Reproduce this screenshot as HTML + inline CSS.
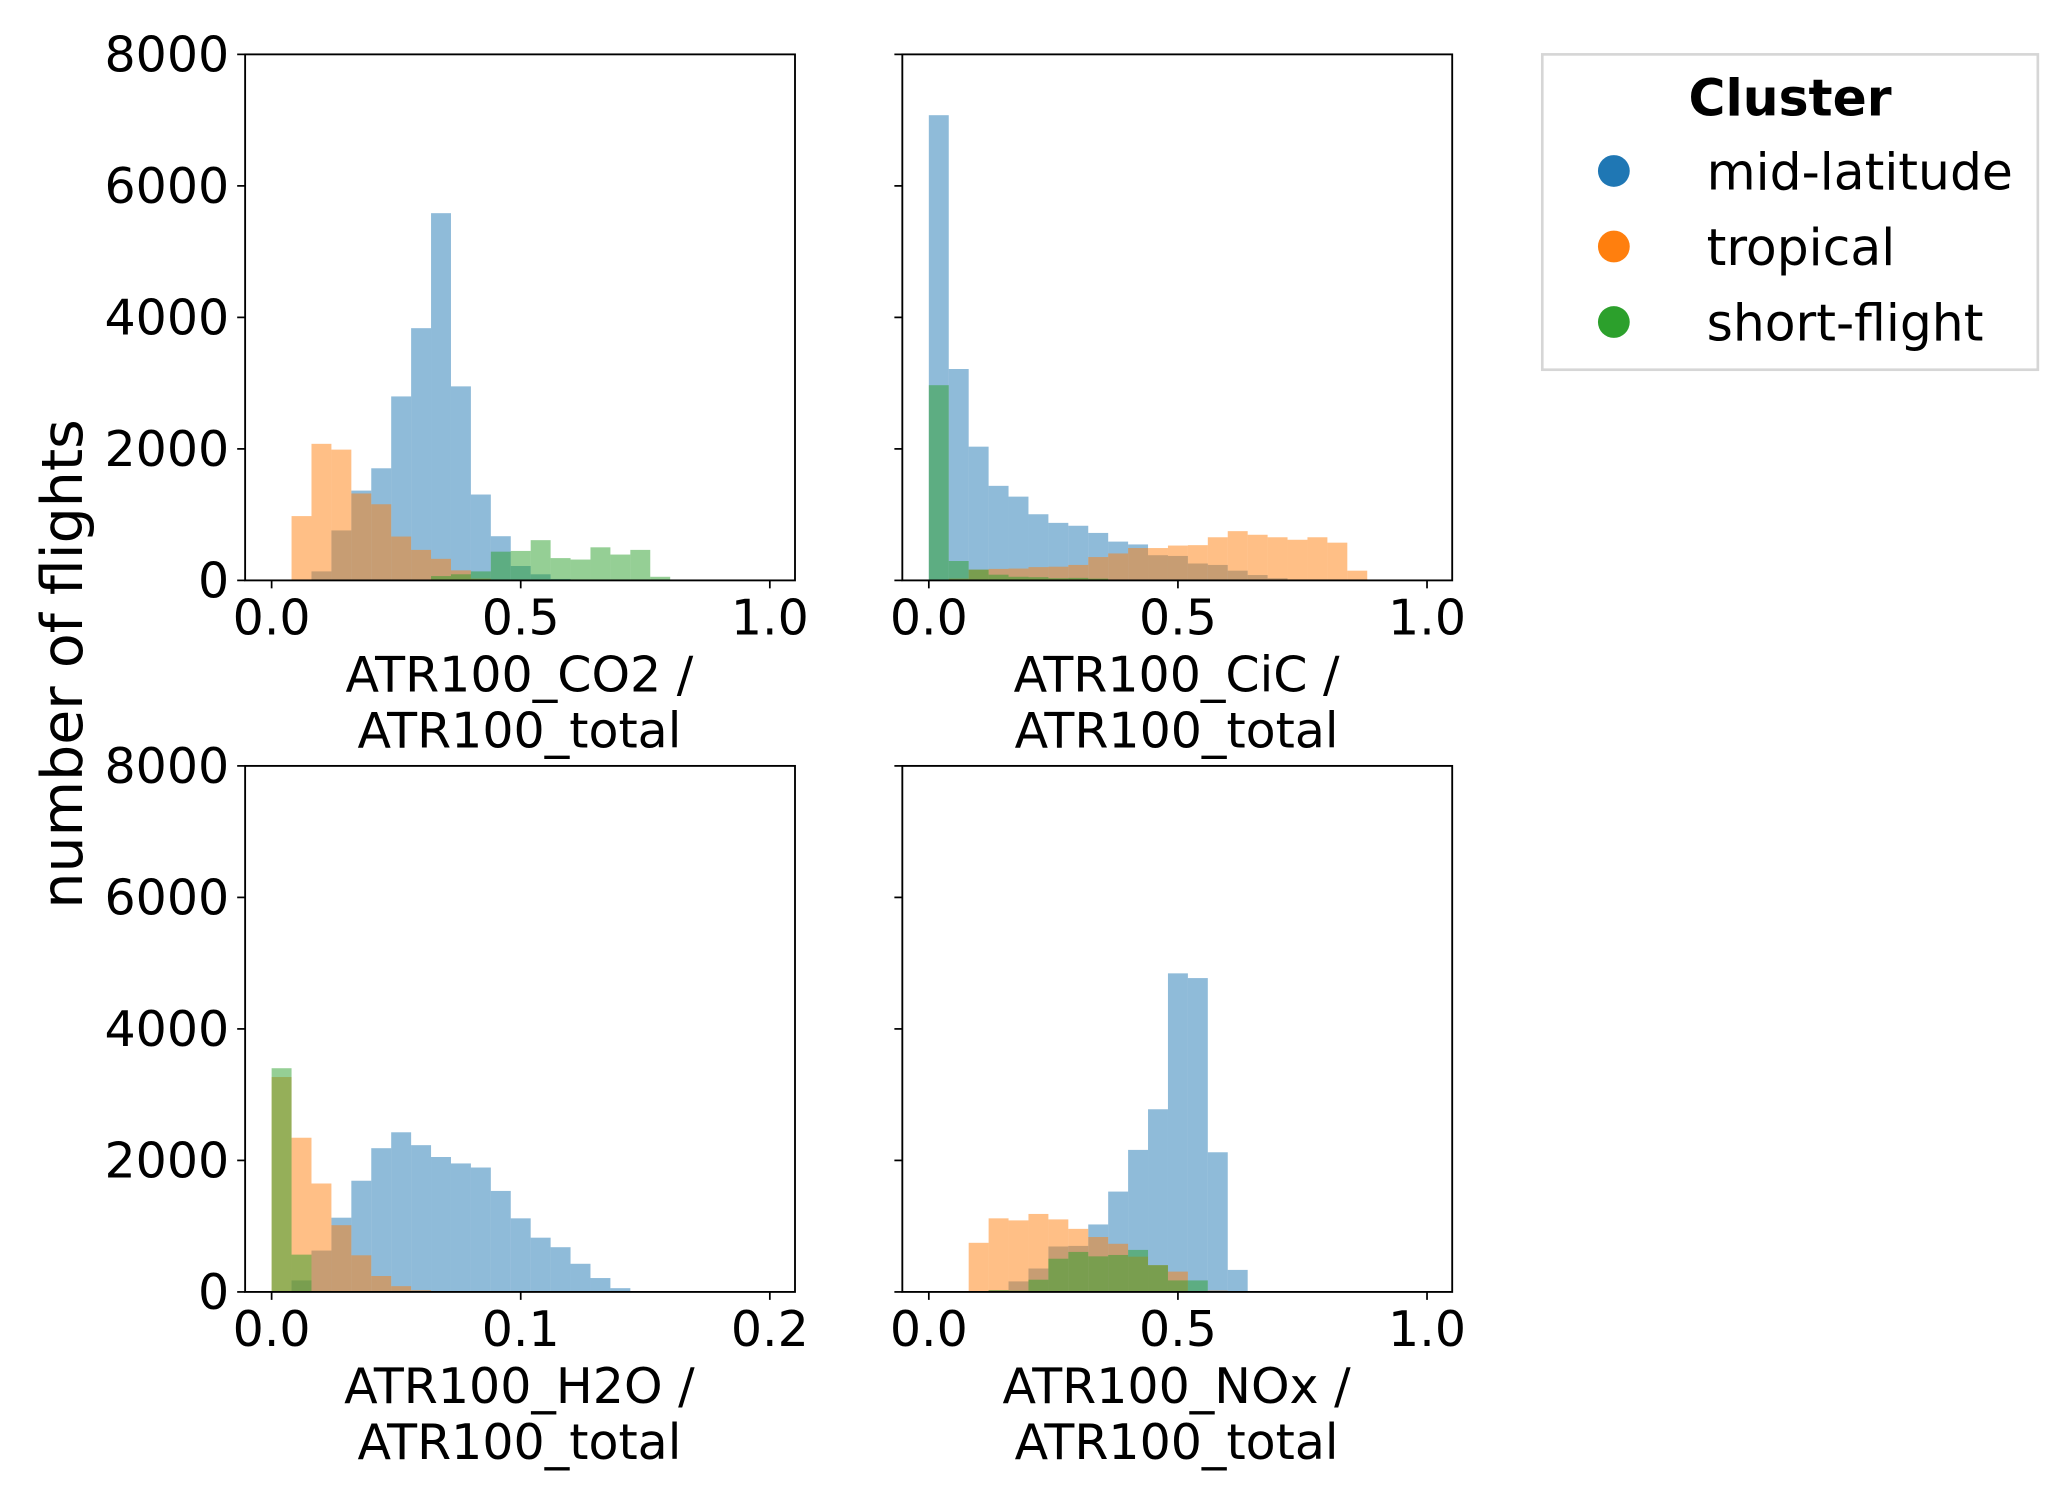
<!DOCTYPE html>
<html><head><meta charset="utf-8"><style>
html,body{margin:0;padding:0;background:#fff;}
svg{display:block;font-family:"DejaVu Sans","Liberation Sans",sans-serif;}
</style></head><body>
<svg id="fig" width="2067" height="1500" viewBox="0 0 1560 1132" xmlns="http://www.w3.org/2000/svg">
<rect width="1560" height="1132" fill="#fff"/>
<text x="0" y="0" transform="translate(62,501) rotate(-90)" font-size="43" text-anchor="middle">number of flights</text>
<g>
<rect x="1164" y="41" width="374" height="238" fill="#fff" stroke="#d6d6d6" stroke-width="2"/>
<text x="1351" y="87" font-size="38" font-weight="bold" text-anchor="middle">Cluster</text>
<circle cx="1218" cy="129" r="12" fill="#1f77b4"/>
<text x="1288" y="143" font-size="38">mid-latitude</text>
<circle cx="1218" cy="186" r="12" fill="#ff7f0e"/>
<text x="1288" y="200" font-size="38">tropical</text>
<circle cx="1218" cy="243" r="12" fill="#2ca02c"/>
<text x="1288" y="257" font-size="38">short-flight</text>
</g>
</svg>
<script>
// ---- data ----
const yTicks = [0, 2000, 4000, 6000, 8000];
const yMax = 8000;
// panel 1: CO2
const co2Start = 0.04, co2Width = 0.04;
const co2Mid = [0, 137, 760, 1366, 1705, 2798, 3836, 5585, 2951, 1306, 672, 219, 93, 22, 0];
const co2Trop = [978, 2077, 1989, 1322, 1158, 667, 464, 328, 153, 27, 5, 0];
const co2Short = [0, 0, 0, 0, 0, 0, 0, 66, 93, 137, 437, 448, 612, 339, 317, 503, 393, 464, 55, 10];
const co2Ticks = [0.0, 0.5, 1.0];
const co2TickLabels = ["0.0", "0.5", "1.0"];
// panel 2: CiC
const cicStart = 0.0, cicWidth = 0.04;
const cicMid = [7075, 3215, 2034, 1438, 1274, 1006, 875, 831, 722, 590, 547, 383, 372, 257, 235, 148, 82, 33, 0];
const cicTrop = [0, 27, 164, 175, 180, 202, 208, 235, 355, 410, 492, 492, 530, 536, 656, 749, 694, 656, 618, 656, 574, 148];
const cicShort = [2969, 295, 164, 87, 55, 49, 33, 38, 27, 5];
const cicTicks = [0.0, 0.5, 1.0];
const cicTickLabels = ["0.0", "0.5", "1.0"];
// panel 3: H2O
const h2oStart = 0.0, h2oWidth = 0.008;
const h2oMid = [0, 175, 629, 1129, 1691, 2186, 2428, 2232, 2052, 1954, 1892, 1536, 1119, 825, 680, 428, 211, 57];
const h2oTrop = [3268, 2345, 1649, 1015, 557, 242, 88, 26];
const h2oShort = [3402, 567, 15];
const h2oTicks = [0.0, 0.1, 0.2];
const h2oTickLabels = ["0.0", "0.1", "0.2"];
// panel 4: NOx
const noxStart = 0.08, noxWidth = 0.04;
const noxMid = [0, 26, 160, 356, 691, 700, 1026, 1526, 2160, 2778, 4845, 4773, 2124, 335];
const noxTrop = [747, 1119, 1088, 1186, 1103, 959, 835, 732, 536, 407, 309, 10, 20];
const noxShort = [0, 26, 20, 186, 505, 608, 541, 562, 639, 407, 175, 175];
const noxTicks = [0.0, 0.5, 1.0];
const noxTickLabels = ["0.0", "0.5", "1.0"];

const colors = {mid: "#1f77b4", trop: "#ff7f0e", short: "#2ca02c"};
const NS = "http://www.w3.org/2000/svg";
const svg = document.getElementById("fig");

function mk(tag, attrs, parent) {
  const e = document.createElementNS(NS, tag);
  for (const k in attrs) e.setAttribute(k, attrs[k]);
  parent.appendChild(e);
  return e;
}

function panel(cfg) {
  const g = mk("g", {}, svg);
  
  
  const x0 = cfg.x0, unit = cfg.unit, bottom = cfg.bottom, top = bottom - 397;
  const xs = v => x0 + v * unit;
  const ys = c => bottom - c / yMax * (bottom - top);
  const series = [["mid", cfg.mid], ["trop", cfg.trop], ["short", cfg.short]];
  series.forEach(([key, arr]) => {
    arr.forEach((c, i) => {
      if (c <= 0) return;
      const a = cfg.start + i * cfg.width, b = a + cfg.width;
      const r = mk("rect", {x: xs(a), y: ys(c), width: xs(b) - xs(a), height: bottom - ys(c), fill: colors[key], "fill-opacity": 0.5}, g);
      
      
    });
  });
  const frame = mk("rect", {x: cfg.left, y: top, width: 415, height: bottom - top, fill: "none", stroke: "#000", "stroke-width": 1.4}, g);
  
  
  cfg.ticks.forEach((t, i) => {
    const x = xs(t);
    mk("line", {x1: x, x2: x, y1: bottom, y2: bottom + 6, stroke: "#000", "stroke-width": 1.3}, g);
    const tl = mk("text", {x: x, y: bottom + 41, "font-size": 37, "text-anchor": "middle"}, g);
    tl.textContent = cfg.tickLabels[i];
    
    
  });
  yTicks.forEach(t => {
    const y = ys(t);
    mk("line", {x1: cfg.left, x2: cfg.left - 6, y1: y, y2: y, stroke: "#000", "stroke-width": 1.3}, g);
    if (cfg.showY) {
      const tl = mk("text", {x: cfg.left - 12, y: y + 13, "font-size": 37, "text-anchor": "end"}, g);
      tl.textContent = String(t);
      
      
    }
  });
  const cx = cfg.left + 207;
  const l1 = mk("text", {x: cx, y: bottom + 84, "font-size": 37, "text-anchor": "middle"}, g);
  l1.textContent = cfg.label1;
  
  
  const l2 = mk("text", {x: cx, y: bottom + 126, "font-size": 37, "text-anchor": "middle"}, g);
  l2.textContent = "ATR100_total";
  
  
}

panel({name: "panel-co2", left: 185, x0: 205, unit: 376, bottom: 438, showY: true, start: co2Start, width: co2Width, mid: co2Mid, trop: co2Trop, short: co2Short, ticks: co2Ticks, tickLabels: co2TickLabels, label1: "ATR100_CO2 /"});
panel({name: "panel-cic", left: 681, x0: 701, unit: 376, bottom: 438, showY: false, start: cicStart, width: cicWidth, mid: cicMid, trop: cicTrop, short: cicShort, ticks: cicTicks, tickLabels: cicTickLabels, label1: "ATR100_CiC /"});
panel({name: "panel-h2o", left: 185, x0: 205, unit: 1880, bottom: 975, showY: true, start: h2oStart, width: h2oWidth, mid: h2oMid, trop: h2oTrop, short: h2oShort, ticks: h2oTicks, tickLabels: h2oTickLabels, label1: "ATR100_H2O /"});
panel({name: "panel-nox", left: 681, x0: 701, unit: 376, bottom: 975, showY: false, start: noxStart, width: noxWidth, mid: noxMid, trop: noxTrop, short: noxShort, ticks: noxTicks, tickLabels: noxTickLabels, label1: "ATR100_NOx /"});
</script>
</body></html>
